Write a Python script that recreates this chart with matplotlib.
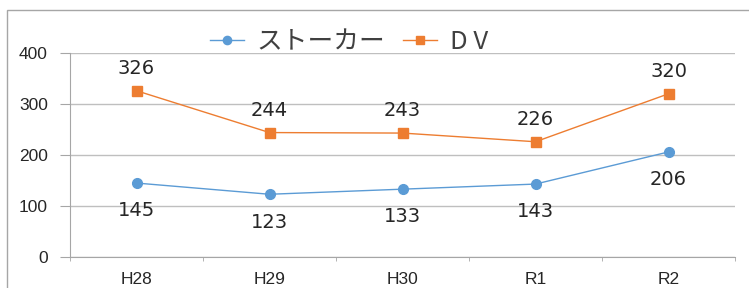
import matplotlib
matplotlib.use("Agg")
import matplotlib.pyplot as plt
from matplotlib.patches import Rectangle

categories = ["H28", "H29", "H30", "R1", "R2"]
stalker = [145, 123, 133, 143, 206]
dv = [326, 244, 243, 226, 320]
series_names = ["ストーカー", "D V"]
yticks = [0, 100, 200, 300, 400]

plt.rcParams['font.family'] = ['Noto Sans CJK JP', 'DejaVu Sans']

W, H = 749, 288
fig = plt.figure(figsize=(W/100, H/100), dpi=100)
ax = fig.add_axes([70/W, (H-257)/H, (735-70)/W, (257-53)/H])

blue = "#5B9BD5"
orange = "#ED7D31"
x = list(range(len(categories)))
ax.plot(x, stalker, color=blue, lw=1.0, marker="o", ms=7, label=series_names[0], zorder=3)
ax.plot(x, dv, color=orange, lw=1.0, marker="s", ms=7, label=series_names[1], zorder=3)

for xi, v in zip(x, dv):
    ax.annotate(str(v), (xi, v), xytext=(0, 16), textcoords="offset points",
                ha="center", va="center", fontsize=14, color="#262626",
                family=["DejaVu Sans"])
for xi, v in zip(x, stalker):
    ax.annotate(str(v), (xi, v), xytext=(0, -20), textcoords="offset points",
                ha="center", va="center", fontsize=14, color="#262626",
                family=["DejaVu Sans"])

ax.set_xlim(-0.5, len(categories) - 0.5)
ax.set_ylim(0, 400)
ax.set_yticks(yticks)
ax.set_yticklabels([str(t) for t in yticks], family=["Liberation Sans"], fontsize=12.5, color="#262626")
ax.set_xticks(x)
ax.set_xticklabels(categories, family=["Liberation Sans"], fontsize=12.5, color="#262626")
ax.set_xticks([i - 0.5 for i in range(len(categories) + 1)], minor=True)
ax.tick_params(axis="x", which="major", length=0, pad=11)
ax.tick_params(axis="x", which="minor", length=3, color="#A6A6A6", direction="out")
ax.tick_params(axis="y", length=7, color="#A6A6A6", pad=9)
ax.grid(axis="y", color="#BFBFBF", lw=1.0)
ax.set_axisbelow(True)
for s in ["top", "right"]:
    ax.spines[s].set_visible(False)
ax.spines["left"].set_color("#A6A6A6")
ax.spines["bottom"].set_color("#A6A6A6")

fig.legend(loc="center", bbox_to_anchor=(349/W, (H-42)/H), ncol=2, frameon=False,
           fontsize=18.5, handlelength=1.3, columnspacing=0.7, handletextpad=0.5,
           labelcolor="#404040", markerscale=0.85)

fig.patches.append(Rectangle((7/W, -0.1), 1.2, (H-10)/H + 0.1, transform=fig.transFigure,
                             fill=False, edgecolor="#A6A6A6", lw=1.0))

fig.savefig("out.png", dpi=100)
